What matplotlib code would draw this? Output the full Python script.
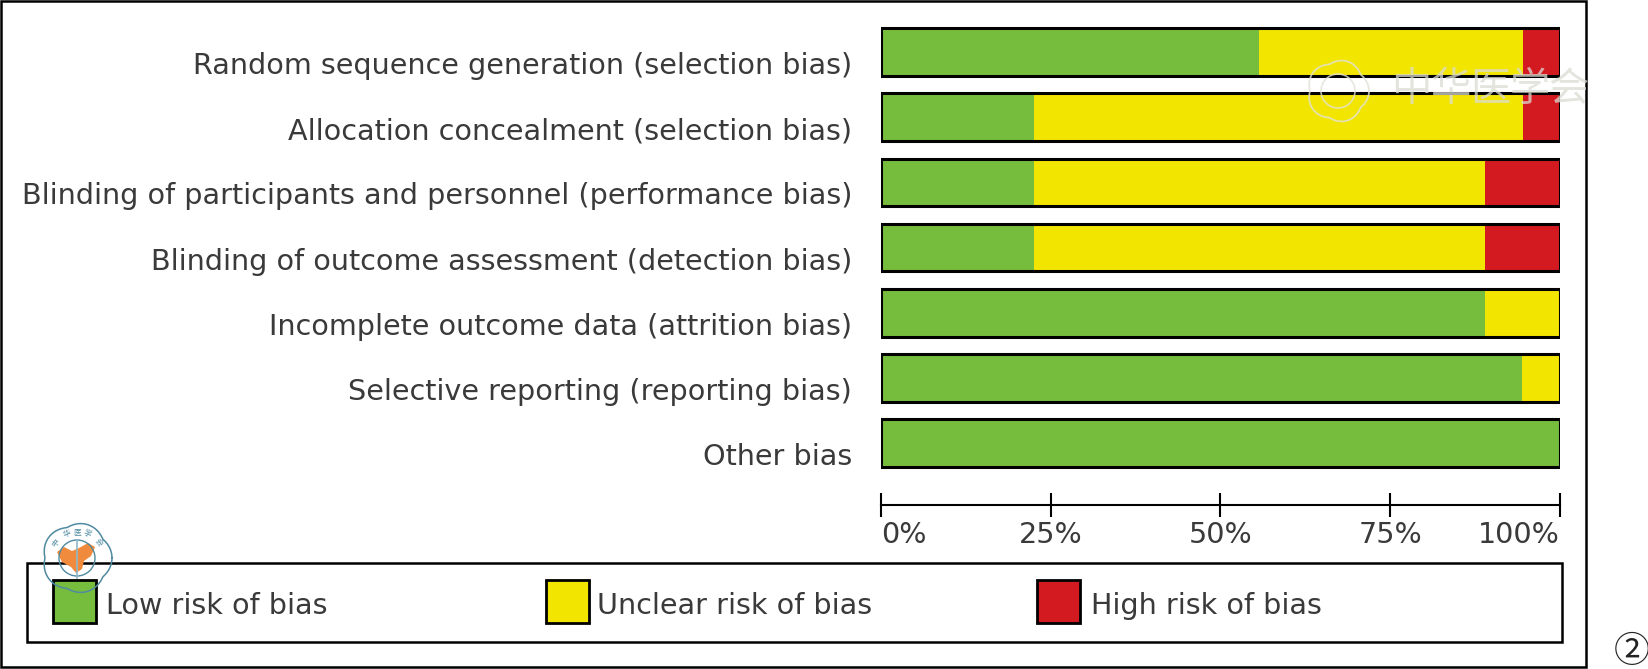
import matplotlib
matplotlib.use("Agg")
import matplotlib.pyplot as plt
import numpy as np
from matplotlib.patches import Rectangle, Circle, Polygon

W, H = 1649, 669

# risk of bias, percent of studies per domain
domains = [
    "Random sequence generation (selection bias)",
    "Allocation concealment (selection bias)",
    "Blinding of participants and personnel (performance bias)",
    "Blinding of outcome assessment (detection bias)",
    "Incomplete outcome data (attrition bias)",
    "Selective reporting (reporting bias)",
    "Other bias",
]
low = [55.6, 22.5, 22.5, 22.5, 88.9, 94.4, 100.0]
unclear = [38.9, 72.0, 66.4, 66.4, 11.1, 5.6, 0.0]
high = [5.5, 5.5, 11.1, 11.1, 0.0, 0.0, 0.0]
ticks = [0, 25, 50, 75, 100]
tick_labels = ["0%", "25%", "50%", "75%", "100%"]
legend_labels = ["Low risk of bias", "Unclear risk of bias", "High risk of bias"]

GREEN = "#76bd3d"
YELLOW = "#f2e500"
RED = "#d31a20"
TEXT = "#3a3a3a"
FS = 20.6
colors = [GREEN, YELLOW, RED]

plt.rcParams["font.family"] = ["DejaVu Sans"]
fig = plt.figure(figsize=(W / 100, H / 100), dpi=100, facecolor="white")


def pixel_box(x0, y0, x1, y1):
    return [x0 / W, 1 - y1 / H, (x1 - x0) / W, (y1 - y0) / H]


# bars
ax = fig.add_axes(pixel_box(881, 22.7, 1560, 472.6))
y = list(range(len(domains)))
bar_h = 0.73
ax.barh(y, low, height=bar_h, color=GREEN)
ax.barh(y, unclear, left=low, height=bar_h, color=YELLOW)
ax.barh(y, high, left=[a + b for a, b in zip(low, unclear)], height=bar_h, color=RED)
ax.barh(y, [100] * 7, height=bar_h, facecolor="none", edgecolor="black", linewidth=2.2)
ax.set_xlim(0, 100)
ax.set_ylim(6.45, -0.45)
ax.set_yticks([])
for s in ["top", "left", "right"]:
    ax.spines[s].set_visible(False)
ax.spines["bottom"].set_position(("outward", 23.3))
ax.spines["bottom"].set_linewidth(1.5)
ax.set_xticks(ticks)
ax.set_xticklabels(tick_labels, fontsize=FS, color=TEXT)
ax.tick_params(axis="x", direction="inout", length=17, width=1.5, pad=3)
xlabels = ax.get_xticklabels()
xlabels[0].set_ha("left")
xlabels[-1].set_ha("right")
for i, name in enumerate(domains):
    ax.annotate(name, xy=(0, i), xytext=(-29, -14), textcoords="offset pixels",
                ha="right", va="center", fontsize=FS, color=TEXT)

# frame, legend and stamps are placed in picture pixels
over = fig.add_axes([0, 0, 1, 1], zorder=5)
over.set_xlim(0, W)
over.set_ylim(H, 0)
over.axis("off")
over.patch.set_alpha(0)
over.add_patch(Rectangle((1, 1), 1585, 666, fill=False, edgecolor="black", linewidth=1.8))
over.add_patch(Rectangle((27, 563), 1535, 79, fill=False, edgecolor="black", linewidth=1.8))

for sx, tx, col, lab in zip([53, 546, 1037], [106, 597, 1091], colors, legend_labels):
    over.add_patch(Rectangle((sx, 580), 43, 43, facecolor=col, edgecolor="black", linewidth=2))
    over.text(tx, 606, lab, fontsize=FS, color=TEXT, ha="left", va="center")

over.text(1632, 652, "\u2461", fontsize=26, color="#222222", ha="center", va="center",
          family=["Noto Sans CJK SC"])

# society seal over the legend
theta = np.linspace(0, 2 * np.pi, 400)
seal_r = 32 + 3 * np.abs(np.cos(2.5 * theta))
over.add_patch(Polygon([(57, 552), (64, 547), (72, 551), (79, 548), (88, 543), (95, 547),
                        (91, 556), (84, 561), (82, 569), (76, 573), (71, 567), (62, 562)],
                       facecolor="#f08a3c", edgecolor="none"))
over.plot(77 + seal_r * np.cos(theta), 558 + seal_r * np.sin(theta), color="#4f8aa0", linewidth=1.1)
over.add_patch(Circle((77, 558), 18, fill=False, edgecolor="#4f8aa0", linewidth=1.0))
over.plot([77, 77], [540, 578], color="#8fb8c8", linewidth=1.2)
for a, ch in zip([-145, -112, -90, -68, -35], "\u4e2d\u534e\u533b\u5b66\u4f1a"):
    over.text(77 + 26 * np.cos(np.radians(a)), 558 + 26 * np.sin(np.radians(a)), ch, fontsize=5.5,
              color="#4f8aa0", ha="center", va="center", rotation=-(a + 90),
              family=["Noto Sans CJK SC"])

# pale watermark at top right
wm_r = 28 + 3 * np.abs(np.cos(2.5 * theta))
over.plot(1338 + wm_r * np.cos(theta), 91 + wm_r * np.sin(theta), color="#e2e2d8", linewidth=1.3, alpha=0.8)
over.add_patch(Circle((1338, 91), 17, fill=False, edgecolor="#e2e2d8", linewidth=1.2, alpha=0.8))
for wx, ch in zip([1411, 1450, 1490, 1530, 1568], "\u4e2d\u534e\u533b\u5b66\u4f1a"):
    over.text(wx, 90, ch, fontsize=29, color="#dcdcd4", alpha=0.75, ha="center", va="center",
              family=["Noto Sans CJK SC"])

fig.savefig("out.png", dpi=100)
